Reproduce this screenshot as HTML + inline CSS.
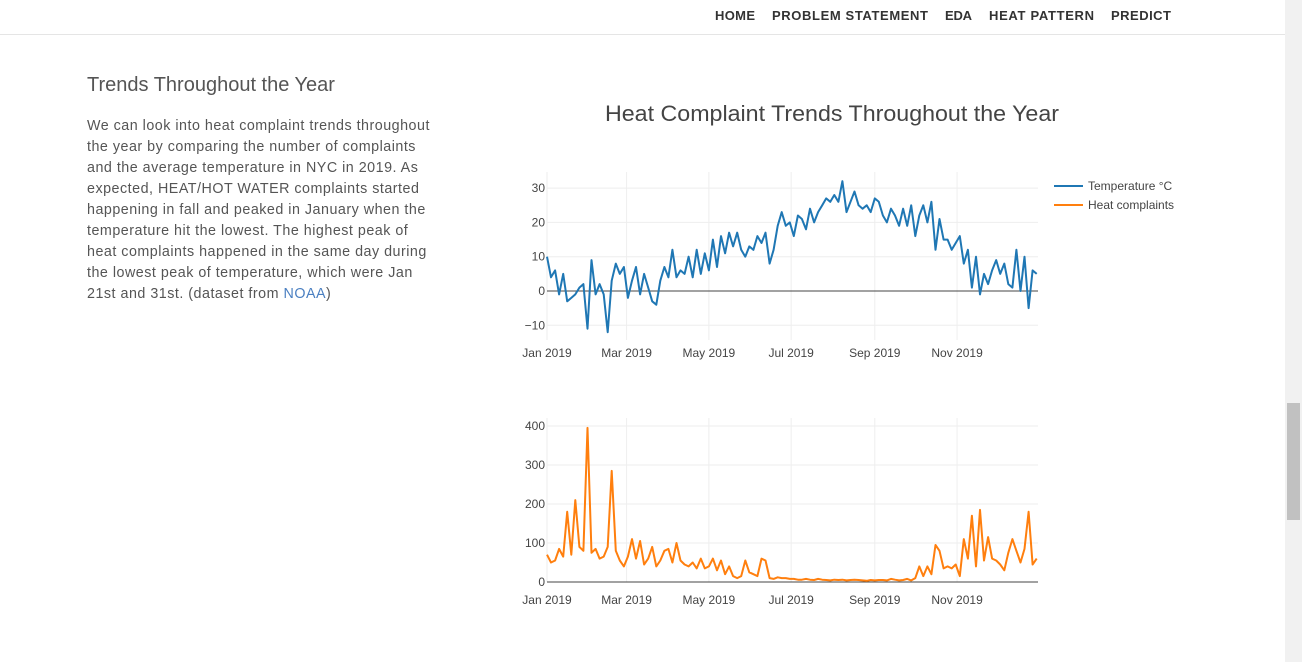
<!DOCTYPE html>
<html><head><meta charset="utf-8"><style>
body{margin:0;width:1302px;height:662px;overflow:hidden;background:#fff;font-family:"Liberation Sans",sans-serif;position:relative}
.nav{position:absolute;left:0;top:0;width:1285px;height:34px;border-bottom:1px solid #e5e5e5}
h2{position:absolute;left:87px;top:74px;margin:0;font-weight:normal;font-size:20px;color:#555}
p{position:absolute;left:87px;top:116px;margin:0;font-size:14.3px;letter-spacing:0.5px;line-height:21px;color:#555;white-space:nowrap}
p a{color:#4a7fc1;text-decoration:none}
.sb{position:absolute;left:1285px;top:0;width:17px;height:662px;background:#f1f1f1}
.th{position:absolute;left:1287px;top:403px;width:13px;height:117px;background:#c1c1c1}
</style></head><body>
<div class="nav">
<svg width="1285" height="34" style="position:absolute;left:0;top:0" font-family="Liberation Sans" font-weight="bold" font-size="13" fill="#333">
<text x="715" y="20" textLength="40" lengthAdjust="spacing">HOME</text>
<text x="772" y="20" textLength="156" lengthAdjust="spacing">PROBLEM STATEMENT</text>
<text x="945" y="20" textLength="27" lengthAdjust="spacing">EDA</text>
<text x="989" y="20" textLength="105" lengthAdjust="spacing">HEAT PATTERN</text>
<text x="1111" y="20" textLength="60" lengthAdjust="spacing">PREDICT</text>
</svg>
</div>
<h2>Trends Throughout the Year</h2>
<p>We can look into heat complaint trends throughout<br>the year by comparing the number of complaints<br>and the average temperature in NYC in 2019. As<br>expected, HEAT/HOT WATER complaints started<br>happening in fall and peaked in January when the<br>temperature hit the lowest. The highest peak of<br>heat complaints happened in the same day during<br>the lowest peak of temperature, which were Jan<br>21st and 31st. (dataset from <a>NOAA</a>)</p>
<div class="sb"></div><div class="th"></div>
<svg id="c" width="1302" height="662" style="position:absolute;left:0;top:0;pointer-events:none"></svg>
<script>
const temp=[10,4,6,-1,5,-3,-2,-1,1,2,-11, 9,-1,2,-1,-12,3,8,5,7, -2,3,7,-1,5,1,-3,-4,3,7, 4,12,4,6,5,10,4,12,5,11, 6,15,7,16,11,17,13,17,12,10,13, 12,16,14,17,8,12,19,23,19,20, 16,22,21,18,24,20,23,25,27,26,28, 26,32,23,26,29,25,24,25,23, 27,26,22,20,24,22,19,24,19,25, 16,22,25,20,26,12,21,15,15,12,14, 16,8,12,1,10,-1,5,2,6,9, 5,8,2,1,12,0,10,-5,6,5];
const heat=[70,50,55,85,65,180,70,210,90,80,395, 75,85,60,65,90,285,80,55,40, 65,110,60,105,45,60,90,40,55,80, 85,50,100,55,45,40,50,35,60,35, 40,60,30,55,20,40,15,10,15,55,25, 20,15,60,55,10,8,12,10,10,8, 8,6,6,8,6,5,8,6,5,4,6, 5,6,4,5,6,5,4,3,5, 4,5,5,4,8,6,4,5,8,4, 10,40,15,40,20,95,80,35,40,35,45, 15,110,60,170,40,185,55,115,60,55, 45,30,75,110,80,50,85,180,45,60];
const monthTicks=["Jan 2019","Mar 2019","May 2019","Jul 2019","Sep 2019","Nov 2019"];
const tickDays=[0,59,120,181,243,304];
const tempTicks=[-10,0,10,20,30];
const heatTicks=[0,100,200,300,400];
const svg=document.getElementById('c');const NS='http://www.w3.org/2000/svg';
function mk(t,a,txt){const e=document.createElementNS(NS,t);for(const k in a)e.setAttribute(k,a[k]);if(txt!=null)e.textContent=txt;svg.appendChild(e);return e;}
const X=d=>547+d*(491/364);
const Yt=v=>291-v*3.43;
const Yh=v=>582-v*0.39;
function panel(yf,top,bot,ticks,vals,color,name,lblY){
  tickDays.forEach((d,i)=>{const g=mk('line',{x1:X(d),x2:X(d),y1:top,y2:bot,stroke:'#eee'});
    
    const t=mk('text',{x:X(d),y:lblY,'text-anchor':'middle','font-size':12,fill:'#444'},monthTicks[i]);
    });
  ticks.forEach(v=>{const y=yf(v);
    const g=mk('line',{x1:547,x2:1038,y1:y,y2:y,stroke:v==0?'#444':'#eee'});
    
    const t=mk('text',{x:545,y:y+4,'text-anchor':'end','font-size':12,fill:'#444'},(v<0?'\u2212'+(-v):v));
    });
  const pts=vals.map((v,i)=>X(i*3).toFixed(1)+','+yf(v).toFixed(1)).join(' ');
  const l=mk('polyline',{points:pts,fill:'none',stroke:color,'stroke-width':2,'stroke-linejoin':'round'});
  
}
panel(Yt,172,340,tempTicks,temp,'#1f77b4','temperature',357);
panel(Yh,418,582,heatTicks,heat,'#ff7f0e','heat-complaints',604);
const ti=mk('text',{x:832,y:121,'text-anchor':'middle','font-size':22,fill:'#444',textLength:454,lengthAdjust:'spacingAndGlyphs'},'Heat Complaint Trends Throughout the Year');

[['Temperature °C','#1f77b4',186],['Heat complaints','#ff7f0e',205]].forEach(([s,c,y])=>{
  const l=mk('line',{x1:1054,x2:1083,y1:y,y2:y,stroke:c,'stroke-width':2});
  
  const t=mk('text',{x:1088,y:y+4,'font-size':12,fill:'#444'},s);
  });
</script>
</body></html>
